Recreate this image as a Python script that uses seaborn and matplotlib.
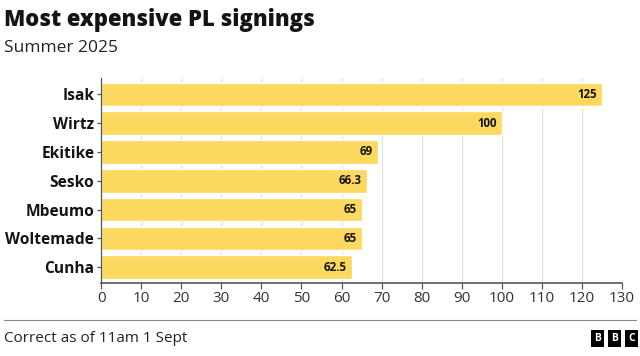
import matplotlib
matplotlib.use("Agg")
import matplotlib.pyplot as plt
import pandas as pd
import seaborn as sns

players = ["Isak", "Wirtz", "Ekitike", "Sesko", "Mbeumo", "Woltemade", "Cunha"]
fees = [125, 100, 69, 66.3, 65, 65, 62.5]
fee_labels = ["125", "100", "69", "66.3", "65", "65", "62.5"]
x_ticks = list(range(0, 131, 10))

BAR = "#FDD95F"
TEXT = "#141414"

sns.set_theme(style="white")
plt.rcParams["font.family"] = ["Open Sans", "DejaVu Sans"]

df = pd.DataFrame({"player": players, "fee": fees})

fig = plt.figure(figsize=(6.4, 3.56), dpi=100)
ax = fig.add_axes([0.158, 0.205, 0.814, 0.576])

sns.barplot(data=df, x="fee", y="player", orient="h", color=BAR, saturation=1,
            width=0.82, ax=ax, zorder=2)

ax.set_xlim(0, 130)
ax.set_ylim(len(players) - 0.45, -0.57)
ax.set_xticks(x_ticks)
ax.set_xticklabels([str(t) for t in x_ticks], fontsize=11, color="#333333")
ax.set_yticks(range(len(players)))
ax.set_yticklabels(players, fontsize=11.2, fontweight="bold", color=TEXT)
ax.set_xlabel("")
ax.set_ylabel("")
ax.grid(True, axis="x", color="#e2e2e2", linewidth=0.9, zorder=0)
ax.set_axisbelow(True)

for side in ("top", "right"):
    ax.spines[side].set_visible(False)
ax.spines["left"].set_color("#555555")
ax.spines["bottom"].set_color("#555555")
ax.spines["left"].set_linewidth(0.9)
ax.spines["bottom"].set_linewidth(1.2)
ax.tick_params(axis="x", bottom=True, length=4, width=0.9, color="#555555", pad=2)
ax.tick_params(axis="y", left=True, length=3, width=0.9, color="#555555", pad=2)

for i, (v, lab) in enumerate(zip(fees, fee_labels)):
    ax.text(v - 1.2, i, lab, ha="right", va="center", fontsize=8.3,
            fontweight="bold", color=TEXT, zorder=3)

fig.text(0.006, 0.945, "Most expensive PL signings", fontsize=15.8,
         fontweight="heavy", color=TEXT, va="center")
fig.text(0.006, 0.866, "Summer 2025", fontsize=12.5, color="#222222", va="center")

fig.add_artist(plt.Line2D([0.006, 0.994], [0.1, 0.1], color="#888888", linewidth=0.8))
fig.text(0.006, 0.048, "Correct as of 11am 1 Sept", fontsize=11, color="#222222",
         va="center")

for k, letter in enumerate("BBC"):
    x0 = 0.9335 + k * 0.0265
    fig.text(x0, 0.048, letter, fontsize=7.5, fontweight="bold", color="white",
             ha="center", va="center",
             bbox=dict(boxstyle="square,pad=0.28", facecolor="black", edgecolor="none"))

fig.savefig("out.png", dpi=100)
